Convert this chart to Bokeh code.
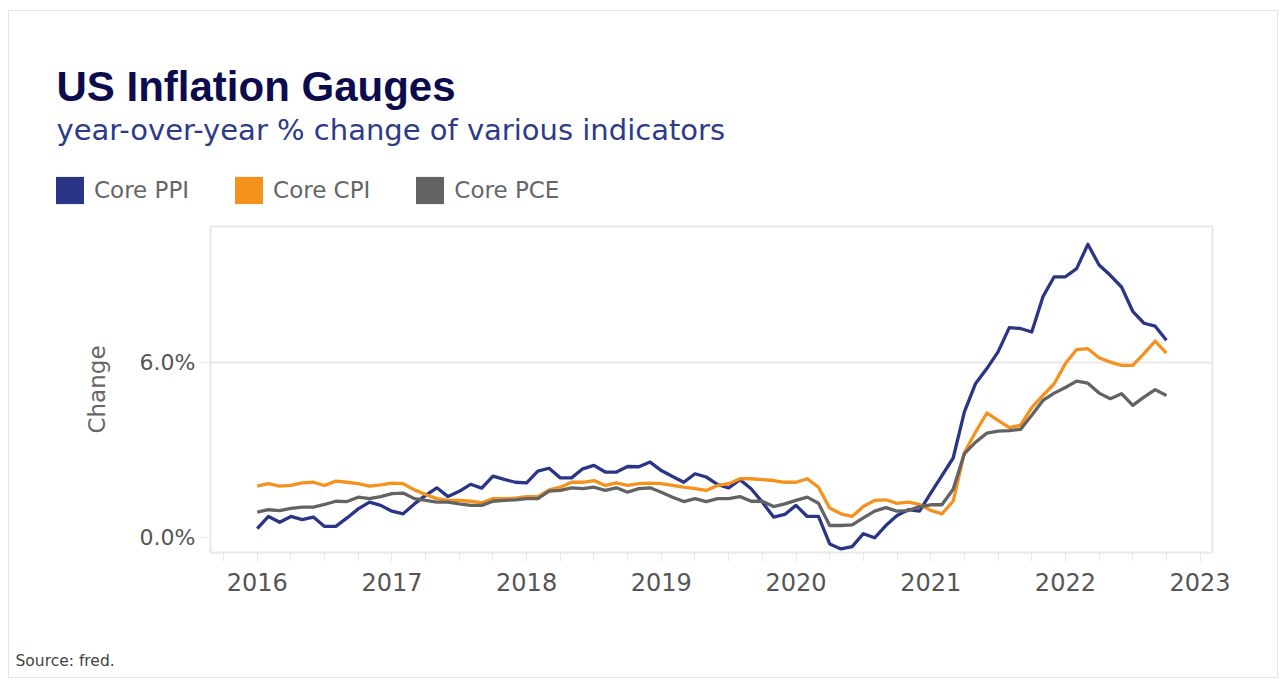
import pandas as pd
from bokeh.plotting import figure
from bokeh.layouts import column
from bokeh.models import (FixedTicker, PrintfTickFormatter, Label, Legend,
                          LegendItem, Range1d, ColumnDataSource)
from bokeh.embed import file_html
from bokeh.resources import INLINE

# ---------------- data (monthly, Jan 2016 - Oct 2022) ----------------
months = pd.date_range("2016-01-01", "2022-10-01", freq="MS")

core_ppi = [0.30, 0.72, 0.52, 0.72, 0.61, 0.70, 0.38, 0.38, 0.67, 0.98, 1.21, 1.10,
            0.90, 0.81, 1.15, 1.44, 1.70, 1.40, 1.58, 1.82, 1.69, 2.10, 1.99, 1.89,
            1.87, 2.27, 2.37, 2.04, 2.04, 2.35, 2.47, 2.24, 2.24, 2.43, 2.42, 2.58,
            2.29, 2.09, 1.89, 2.18, 2.07, 1.82, 1.70, 1.98, 1.67, 1.21, 0.70, 0.79,
            1.10, 0.72, 0.72, -0.22, -0.39, -0.31, 0.13, -0.01, 0.41, 0.75, 0.95, 0.90,
            1.52, 2.12, 2.72, 4.30, 5.27, 5.78, 6.35, 7.18, 7.15, 7.03, 8.24, 8.92,
            8.92, 9.20, 10.03, 9.32, 8.97, 8.57, 7.74, 7.33, 7.23, 6.75]

core_cpi = [1.76, 1.84, 1.76, 1.78, 1.87, 1.89, 1.78, 1.93, 1.89, 1.84, 1.76, 1.80,
            1.86, 1.84, 1.63, 1.47, 1.33, 1.27, 1.27, 1.24, 1.19, 1.33, 1.33, 1.35,
            1.40, 1.40, 1.63, 1.72, 1.89, 1.89, 1.95, 1.78, 1.87, 1.78, 1.84, 1.86,
            1.84, 1.78, 1.72, 1.67, 1.61, 1.78, 1.84, 2.01, 2.01, 1.98, 1.95, 1.89,
            1.89, 2.01, 1.72, 1.01, 0.81, 0.72, 1.06, 1.27, 1.29, 1.17, 1.21, 1.13,
            0.93, 0.81, 1.24, 2.90, 3.61, 4.26, 4.01, 3.76, 3.84, 4.44, 4.86, 5.26,
            5.95, 6.43, 6.46, 6.15, 6.00, 5.89, 5.89, 6.29, 6.72, 6.31]

core_pce = [0.87, 0.95, 0.92, 1.00, 1.04, 1.04, 1.13, 1.24, 1.23, 1.38, 1.33, 1.40,
            1.50, 1.52, 1.33, 1.27, 1.21, 1.21, 1.15, 1.10, 1.10, 1.24, 1.27, 1.29,
            1.33, 1.33, 1.59, 1.61, 1.70, 1.67, 1.72, 1.61, 1.70, 1.55, 1.67, 1.70,
            1.55, 1.38, 1.23, 1.33, 1.23, 1.33, 1.33, 1.40, 1.24, 1.24, 1.06, 1.15,
            1.27, 1.38, 1.17, 0.41, 0.41, 0.43, 0.67, 0.90, 1.02, 0.90, 0.92, 1.06,
            1.12, 1.12, 1.65, 2.87, 3.26, 3.57, 3.64, 3.66, 3.70, 4.18, 4.69, 4.94,
            5.13, 5.35, 5.28, 4.94, 4.75, 4.92, 4.52, 4.80, 5.06, 4.86]

series_names = ["Core PPI", "Core CPI", "Core PCE"]
series_colors = ["#2a3587", "#f5921e", "#636363"]
year_ticks = [2016, 2017, 2018, 2019, 2020, 2021, 2022, 2023]
quarter_ticks = [y + q / 4 for y in range(2015, 2024) for q in range(4)]
y_ticks = [0, 6]

title_text = "US Inflation Gauges"
subtitle_text = "year-over-year % change of various indicators"
source_text = "Source: fred."

# decimal-year position for each month
xpos = [d.year + (d.month - 1) / 12 for d in months]
src = ColumnDataSource(dict(x=xpos, ppi=core_ppi, cpi=core_cpi, pce=core_pce))

FONT = "DejaVu Sans"
GRID = "#e8e8e8"
W = 1268


def blank(height):
    f = figure(width=W, height=height, output_backend="svg", toolbar_location=None,
               x_range=Range1d(0, W), y_range=Range1d(height, 0),
               x_axis_type=None, y_axis_type=None,
               min_border=0, min_border_left=0, min_border_right=0,
               min_border_top=0, min_border_bottom=0)
    f.frame_align = False
    f.outline_line_color = None
    f.background_fill_color = "white"
    f.border_fill_color = "white"
    f.xgrid.visible = False
    f.ygrid.visible = False
    return f


# ---------------- header: title, subtitle, legend ----------------
HEAD_H = 207
head = blank(HEAD_H)
head.add_layout(Label(x=47, y=75, text=title_text, text_font="Liberation Sans",
                      text_font_style="bold", text_font_size="42px",
                      text_color="#0b0b4d", text_baseline="alphabetic"))
head.add_layout(Label(x=47, y=118, text=subtitle_text, text_font=FONT,
                      text_font_size="29px", text_color="#2d3a8a",
                      text_baseline="alphabetic"))
items = []
for name, color in zip(series_names, series_colors):
    # legend swatch proxy, placed outside the visible header area
    r = head.quad(left=[-60], right=[-50], top=[-60], bottom=[-50],
                  fill_color=color, line_color=None)
    items.append(LegendItem(label=name, renderers=[r]))
legend = Legend(items=items, orientation="horizontal", location=(43, 11.5),
                glyph_width=35, glyph_height=34, label_standoff=7, spacing=42,
                padding=0, margin=0, border_line_color=None, background_fill_alpha=0,
                label_text_font=FONT, label_text_font_size="23px",
                label_text_color="#666666")
head.add_layout(legend, "center")

# ---------------- main chart ----------------
p = figure(width=W, height=402, output_backend="svg", toolbar_location=None,
           x_range=Range1d(2015.653, 2023.092), y_range=Range1d(-0.513, 10.64),
           min_border_left=201, min_border_right=65, min_border_top=8,
           min_border_bottom=68)
p.outline_line_color = GRID
p.outline_line_width = 2
p.background_fill_color = "white"
p.border_fill_color = "white"

for col, color in zip(["ppi", "cpi", "pce"], series_colors):
    p.line("x", col, source=src, line_color=color, line_width=3.3, line_join="round")

p.xaxis.ticker = FixedTicker(ticks=year_ticks, minor_ticks=quarter_ticks)
p.xaxis.major_label_text_font = FONT
p.xaxis.major_label_text_font_size = "24px"
p.xaxis.major_label_text_color = "#555555"
p.xaxis.axis_line_color = GRID
p.xaxis.major_tick_line_color = GRID
p.xaxis.minor_tick_line_color = GRID
p.xaxis.major_tick_out = 9
p.xaxis.major_tick_in = 0
p.xaxis.minor_tick_out = 9
p.xaxis.minor_tick_in = 0
p.xaxis.major_label_standoff = 11

p.yaxis.ticker = FixedTicker(ticks=y_ticks, minor_ticks=[])
p.yaxis.formatter = PrintfTickFormatter(format="%.1f%%")
p.yaxis.major_label_text_font = FONT
p.yaxis.major_label_text_font_size = "22px"
p.yaxis.major_label_text_color = "#555555"
p.yaxis.axis_line_color = GRID
p.yaxis.major_tick_line_color = GRID
p.yaxis.major_tick_out = 10
p.yaxis.major_tick_in = 0
p.yaxis.major_label_standoff = 5
p.yaxis.axis_label = "Change"
p.yaxis.axis_label_text_font = FONT
p.yaxis.axis_label_text_font_style = "normal"
p.yaxis.axis_label_text_font_size = "23px"
p.yaxis.axis_label_text_color = "#666666"
p.yaxis.axis_label_standoff = 27

p.xgrid.grid_line_color = None
p.ygrid.ticker = FixedTicker(ticks=[6])
p.ygrid.grid_line_color = GRID
p.ygrid.grid_line_width = 2

# ---------------- footer: source ----------------
FOOT_H = 57
foot = blank(FOOT_H)
foot.add_layout(Label(x=6, y=40, text=source_text, text_font=FONT,
                      text_font_size="15.5px", text_color="#444444",
                      text_baseline="alphabetic"))

layout = column(head, p, foot, spacing=0)
layout.styles = {"margin-left": "8px", "margin-top": "10px",
                 "border": "1px solid #e4e4e4"}

open("out.html", "w").write(file_html(layout, INLINE))
